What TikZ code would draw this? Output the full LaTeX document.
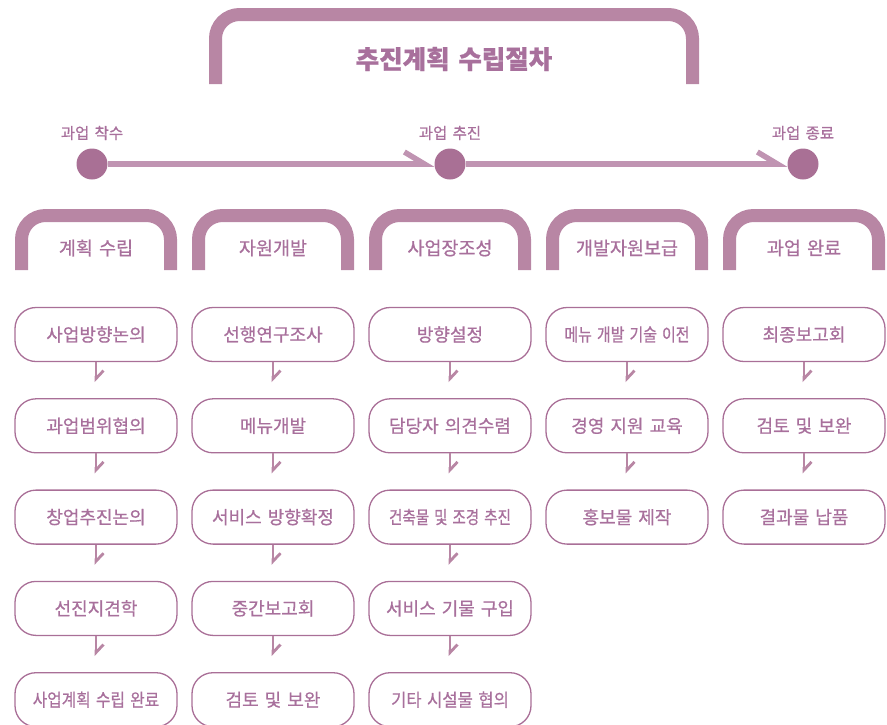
\documentclass[tikz,border=0pt]{standalone}
\usepackage{fontspec}
\usepackage{graphicx}
\setmainfont[WordSpace=1.5,FakeBold=0.7]{Noto Sans CJK KR}
\usetikzlibrary{arrows.meta}
\definecolor{bracketcol}{HTML}{B886A4}
\definecolor{linecol}{HTML}{C094B2}
\definecolor{dotcol}{HTML}{A97095}
\definecolor{boxcol}{HTML}{A96F97}
\definecolor{textcol}{HTML}{A8709C}
\newcommand{\squeeze}[2]{\scalebox{#1}[1]{#2}}
\tikzset{
  bracket/.style={draw=bracketcol, line width=13pt, rounded corners=24pt},
  titletext/.style={text=textcol, font=\fontsize{25.5}{30}\selectfont\bfseries},
  headtext/.style={text=textcol, font=\fontsize{18.5}{22}\selectfont},
  itembox/.style={draw=boxcol, line width=1.3pt, rounded corners=21pt,
    minimum width=162pt, minimum height=54pt, inner sep=0pt,
    text=textcol, font=\fontsize{18}{22}\selectfont},
  dot/.style={circle, fill=dotcol, minimum size=31pt, inner sep=0pt},
  dotlabel/.style={text=textcol, font=\fontsize{15.5}{18}\selectfont},
  timeline/.style={draw=linecol, line width=5.5pt,
    -{Straight Barb[left,length=20pt,width=24pt]}},
  nextstep/.style={draw=bracketcol, line width=2.8pt, shorten >=16pt,
    -{Straight Barb[left,length=8pt,width=15pt]}}
}
\begin{document}
\begin{tikzpicture}[x=1pt,y=-1pt]
  \useasboundingbox (0,0) rectangle (887,724);
  \clip (0,0) rectangle (887,724);
  % title
  \draw[bracket] (215.5,84) -- (215.5,14.5) -- (692.5,14.5) -- (692.5,84);
  \node[titletext] (title) at (454,59) {추진계획 수립절차};
  % timeline
  \node[dot] (start) at (92,164) {};
  \node[dot] (mid) at (450,164) {};
  \node[dot] (end) at (803,164) {};
  \node[dotlabel] (startlabel) at (92,133) {과업 착수};
  \node[dotlabel] (midlabel) at (450,133) {과업 추진};
  \node[dotlabel] (endlabel) at (803,133) {과업 종료};
  \draw[timeline] (start) -- (mid);
  \draw[timeline] (mid) -- (end);
  % columns
  \foreach \col/\cx/\head/\items in {
    1/96/계획 수립/{사업방향논의,과업범위협의,창업추진논의,선진지견학,\squeeze{0.875}{사업계획 수립 완료}},
    2/273/자원개발/{선행연구조사,메뉴개발,서비스 방향확정,중간보고회,검토 및 보완},
    3/450/사업장조성/{방향설정,담당자 의견수렴,\squeeze{0.81}{건축물 및 조경 추진},서비스 기물 구입,\squeeze{0.92}{기타 시설물 협의}},
    4/627/개발자원보급/{\squeeze{0.83}{메뉴 개발 기술 이전},경영 지원 교육,홍보물 제작},
    5/804/과업 완료/{최종보고회,검토 및 보완,결과물 납품}}{
    \draw[bracket] (\cx-74.5,270) -- (\cx-74.5,215.5) -- (\cx+74.5,215.5) -- (\cx+74.5,270);
    \node[headtext] (head\col) at (\cx,248) {\head};
    \foreach \t [count=\i, remember=\i as \j (initially 0)] in \items {
      \node[itembox] (item\col-\i) at (\cx,{334.5+(\i-1)*91.3}) {\t};
      \ifnum\j>0 \draw[nextstep] (item\col-\j) -- (item\col-\i); \fi
    }
  }
\end{tikzpicture}
\end{document}
